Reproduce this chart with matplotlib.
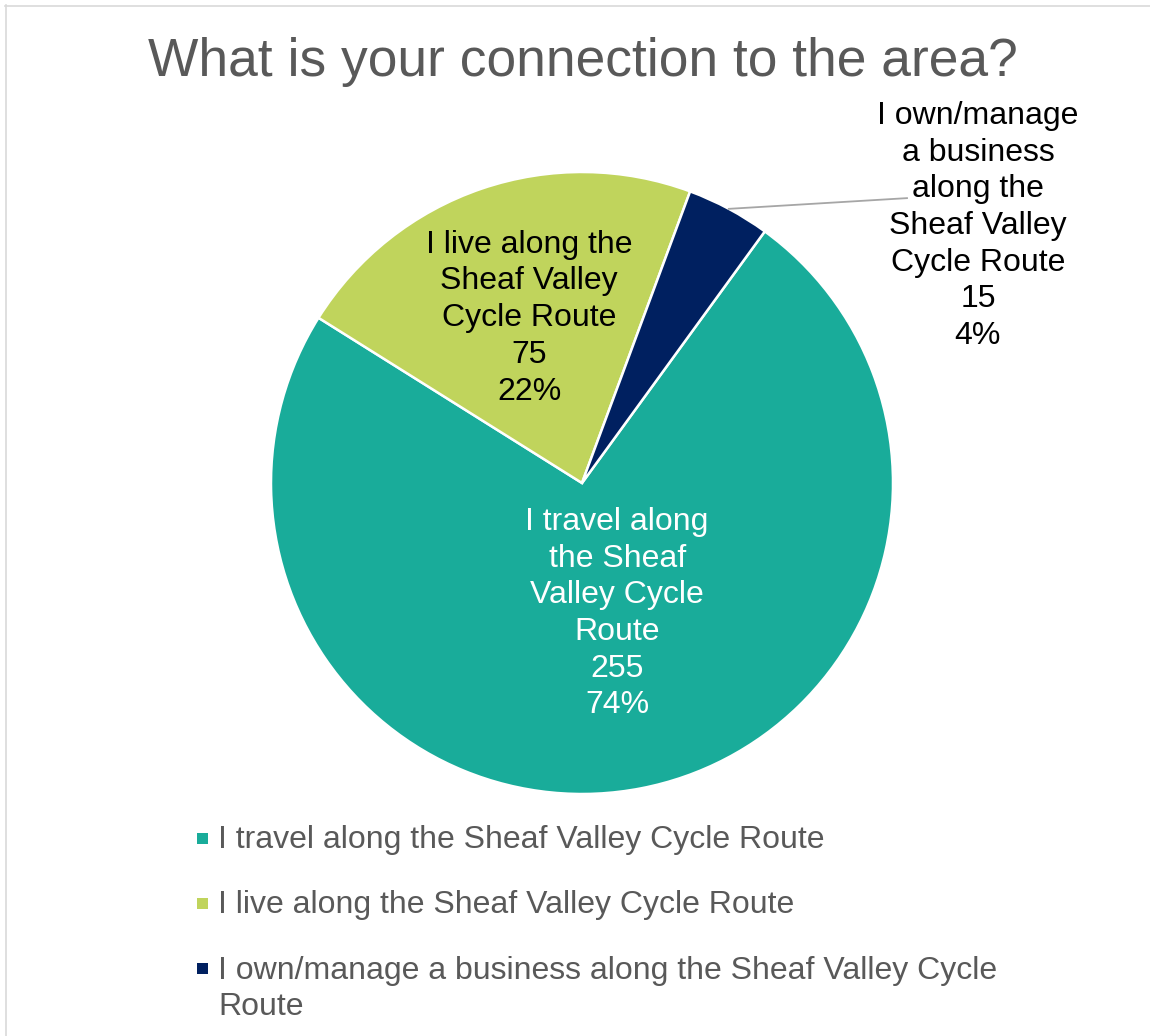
import numpy as np
import matplotlib
matplotlib.use("Agg")
import matplotlib.pyplot as plt
from matplotlib.patches import Rectangle
from matplotlib.lines import Line2D

plt.rcParams['font.family'] = ['Liberation Sans', 'DejaVu Sans']

# data
categories = [
    "I travel along the Sheaf Valley Cycle Route",
    "I live along the Sheaf Valley Cycle Route",
    "I own/manage a business along the Sheaf Valley Cycle Route",
]
counts = [255, 75, 15]
# how the labels wrap on the chart
wrapped_labels = [
    "I travel along\nthe Sheaf\nValley Cycle\nRoute",
    "I live along the\nSheaf Valley\nCycle Route",
    "I own/manage\na business\nalong the\nSheaf Valley\nCycle Route",
]
legend_labels = [
    "I travel along the Sheaf Valley Cycle Route",
    "I live along the Sheaf Valley Cycle Route",
    "I own/manage a business along the Sheaf Valley Cycle\nRoute",
]
colors = ["#19AC9A", "#C0D45C", "#002060"]
label_colors = ["white", "black", "black"]

W, H = 1150, 1036
fig = plt.figure(figsize=(W / 100, H / 100), dpi=100)

# pie area: centre (582, 483), radius 311 px
cx, cy, r = 582, 483, 311
ax = fig.add_axes([(cx - r) / W, (H - cy - r) / H, 2 * r / W, 2 * r / H])
wedges, _ = ax.pie(counts, colors=colors, startangle=54, counterclock=False,
                   radius=1.0, wedgeprops=dict(edgecolor="white", linewidth=1.8))
ax.set_xlim(-1, 1)
ax.set_ylim(-1, 1)
ax.set_aspect("equal")
ax.axis("off")

total = sum(counts)
pcts = [round(c / total * 100) for c in counts]

# data label positions (pie radius units)
label_pos = [(0.113, -0.42), (-0.17, 0.53), (1.273, 0.826)]
for i in range(len(counts)):
    txt = f"{wrapped_labels[i]}\n{counts[i]}\n{pcts[i]}%"
    ax.text(label_pos[i][0], label_pos[i][1], txt, ha="center", va="center",
            multialignment="center", fontsize=23, color=label_colors[i],
            linespacing=1.29, clip_on=False)

# leader line for the small slice
w = wedges[2]
mid = np.deg2rad((w.theta1 + w.theta2) / 2)
ax.plot([np.cos(mid), 1.045], [np.sin(mid), 0.916], color="#A6A6A6",
        linewidth=1.3, clip_on=False)

# title
fig.text(583 / W, 1 - 76 / H, "What is your connection to the area?",
         ha="center", va="baseline", fontsize=38.4, color="#595959")

# legend (baseline of first line of each entry)
baselines = [848, 913, 978]
pitch = 37
for i in range(len(categories)):
    sq = 11
    fig.add_artist(Rectangle((197 / W, 1 - (baselines[i] - 4) / H), sq / W, sq / H,
                             transform=fig.transFigure, facecolor=colors[i],
                             edgecolor="none"))
    n_extra = legend_labels[i].count("\n")
    fig.text(218 / W, 1 - (baselines[i] + pitch * n_extra) / H, legend_labels[i],
             ha="left", va="baseline", fontsize=23, color="#595959",
             linespacing=1.28)

# outer border
fig.add_artist(Line2D([5 / W, 1], [1 - 5.5 / H] * 2, transform=fig.transFigure,
                      color="#D9D9D9", linewidth=1.2))
fig.add_artist(Line2D([5.5 / W] * 2, [0, 1 - 5 / H], transform=fig.transFigure,
                      color="#D9D9D9", linewidth=1.2))

fig.savefig("out.png", dpi=100, facecolor="white")
